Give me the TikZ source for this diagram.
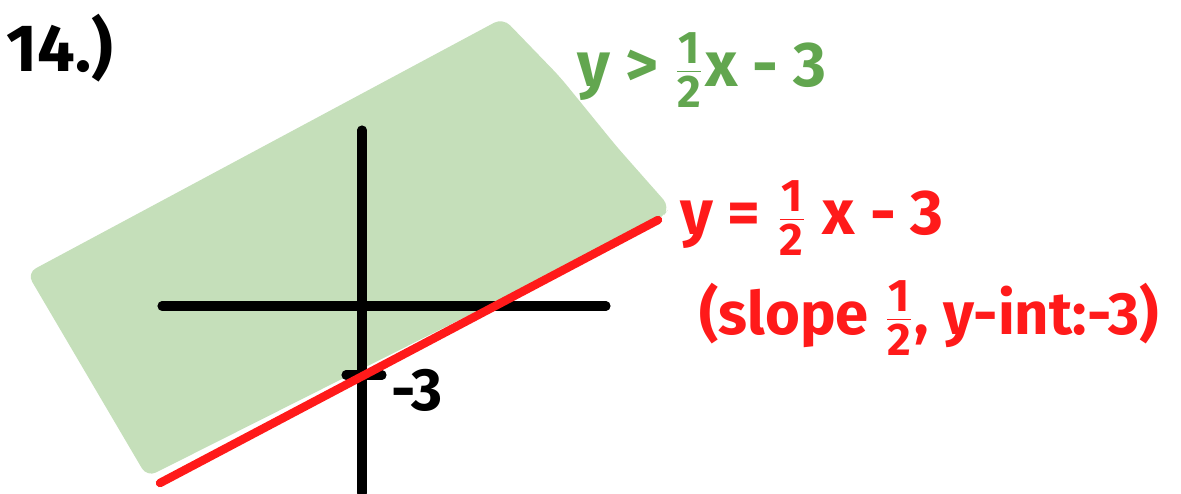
\documentclass[tikz,border=0pt]{standalone}
\usepackage{fontspec}
\setmainfont{Fira Sans}
\usepackage{tikz}
\usetikzlibrary{calc}
\definecolor{shadegreen}{HTML}{C5DFBA}
\definecolor{labelgreen}{HTML}{62A64F}
\definecolor{linered}{HTML}{FF1A1A}
\newcommand{\frpart}[1]{\mbox{\fontsize{13}{14}\selectfont\bfseries #1}}
\newcommand{\hfr}[2]{$\frac{\frpart{#1}}{\frpart{#2}}$}

\begin{document}
\begin{tikzpicture}[x=1cm,y=1cm,line cap=round]
  \useasboundingbox (0,0) rectangle (11.81,4.93);
  % shaded half-plane
  \fill[shadegreen,rounded corners=1mm] (0.27,2.20) -- (5.03,4.75) -- (5.60,4.16) -- (6.17,3.46)
    -- (6.70,2.86) -- (6.62,2.75) -- (1.47,0.16) -- cycle;
  % axes
  \draw[line width=2.6pt] (1.62,1.87) -- (6.06,1.87);
  \draw[line width=2.6pt] (3.62,3.63) -- (3.62,0.00);
  \draw[line width=2.6pt] (3.46,1.18) -- (3.82,1.18);
  % boundary line
  \draw[linered,line width=2.4pt] (1.60,0.10) -- (6.58,2.73);
  \node[font=\fontsize{19}{23}\selectfont\bfseries] (num) at (0.60,4.45) {14.)};
  \node[font=\fontsize{17}{20}\selectfont\bfseries] (yint) at (4.17,1.03) {-3};
  \node[labelgreen,font=\fontsize{18}{22}\selectfont\bfseries] (ineq) at (7.02,4.23) {y > \hfr{1}{2}x - 3};
  \node[linered,font=\fontsize{18}{22}\selectfont\bfseries] (eq) at (8.12,2.75) {y = \hfr{1}{2} x - 3};
  \node[linered,font=\fontsize{17}{20}\selectfont\bfseries] (note) at (9.29,1.75) {(slope \hfr{1}{2}, y-int:-3)};
\end{tikzpicture}
\end{document}
